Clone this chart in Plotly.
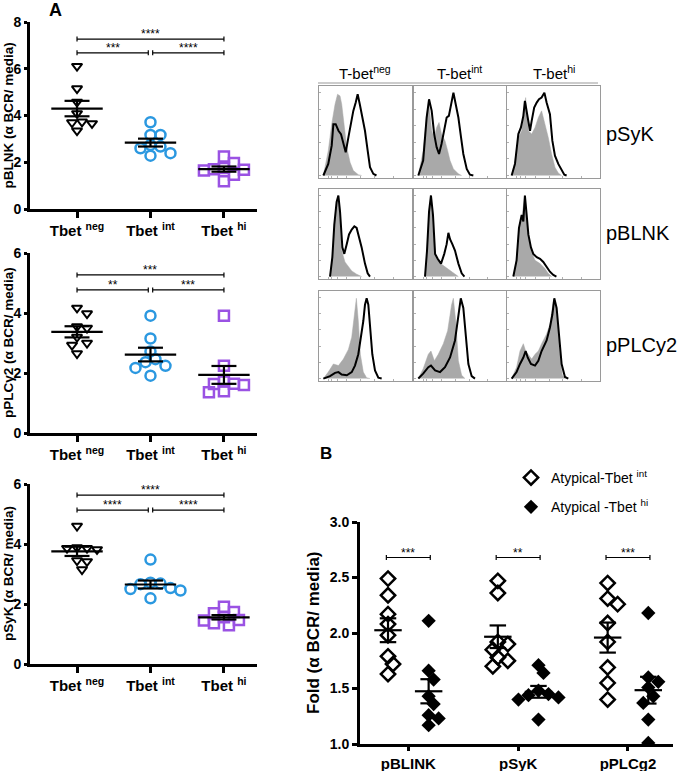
import numpy as np
import plotly.graph_objects as go

W, H = 686, 771
FONT = "Liberation Sans, Arial, sans-serif"

# ---------------- Panel A data (dot plots) ----------------
group_ticks = ["Tbet <sup>neg</sup>", "Tbet <sup>int</sup>", "Tbet <sup>hi</sup>"]

pblnk_neg = [6.11, 5.15, 4.58, 4.09, 3.73, 3.66, 3.70, 3.35]
pblnk_int = [3.71, 3.17, 3.17, 2.74, 2.60, 2.67, 2.28, 2.39]
pblnk_hi = [2.25, 1.97, 1.68, 1.75, 1.70, 1.47, 1.19, 1.65]

pplc_neg = [4.17, 3.98, 3.55, 3.50, 3.20, 3.00, 2.93, 2.65]
pplc_int = [3.91, 3.15, 2.72, 2.46, 2.36, 2.24, 2.17, 1.91]
pplc_hi = [3.91, 2.24, 1.72, 1.64, 1.63, 1.60, 1.39, 1.36]

psyk_neg = [4.60, 3.86, 3.86, 3.88, 3.82, 3.45, 3.42, 3.15]
psyk_int = [3.48, 2.71, 2.66, 2.50, 2.53, 2.45, 2.68, 2.19]
psyk_hi = [1.91, 1.73, 1.69, 1.56, 1.45, 1.36, 1.29, 1.47]

# ---------------- Panel B data ----------------
b_cats = ["pBLINK", "pSyK", "pPLCg2"]
blink_int = [2.49, 2.34, 2.17, 2.08, 1.98, 1.79, 1.72, 1.63]
blink_hi = [2.11, 1.66, 1.58, 1.43, 1.36, 1.26, 1.23, 1.17]
syk_int = [2.47, 2.36, 1.92, 1.90, 1.85, 1.78, 1.75, 1.70]
syk_hi = [1.71, 1.64, 1.48, 1.45, 1.44, 1.42, 1.40, 1.22]
plc_int = [2.45, 2.31, 2.26, 2.09, 1.92, 1.69, 1.55, 1.40]
plc_hi = [2.18, 1.60, 1.56, 1.51, 1.43, 1.37, 1.22, 1.01]

# ---------------- Histogram data (x: 0-100 channel, y: % of max) ----------------
hist_cols = ["T-bet<sup>neg</sup>", "T-bet<sup>int</sup>", "T-bet<sup>hi</sup>"]
hist_rows = ["pSyK", "pBLNK", "pPLCy2"]

psyk_neg_media = ([4.7, 10, 13.7, 17.3, 20, 22.7, 24.5, 27.3, 29.9, 33.5, 37, 42.4, 46],
                  [0, 30, 62, 86, 98, 96, 86, 58, 34, 16, 6, 1, 0])
psyk_neg_bcr = ([4.7, 10, 13.7, 15.5, 18, 21, 23.7, 26, 28.8, 31.7, 34.5, 37, 39.6, 41.7, 44, 46.8, 49.6, 52.5, 55, 58.6, 62],
                [0, 14, 36, 62, 62, 54, 50, 40, 28, 46, 62, 78, 88, 98, 86, 70, 54, 30, 10, 2, 0])
psyk_int_media = ([4.7, 10, 13.8, 16.4, 19.3, 22, 24.7, 27.3, 30, 33.8, 36.7, 39.3, 43, 48.4, 52],
                  [0, 30, 74, 86, 54, 46, 58, 64, 50, 42, 30, 18, 8, 2, 0])
psyk_int_bcr = ([4.7, 10, 13.8, 16.4, 19.3, 22, 24.7, 27.3, 30, 33, 35.6, 38, 40.4, 43, 45.5, 48.4, 51.3, 53.8, 57.5, 61, 64.7],
                [0, 18, 70, 92, 78, 50, 34, 26, 38, 54, 70, 72, 88, 100, 86, 70, 46, 26, 8, 1, 0])
psyk_hi_media = ([4.7, 8.3, 11.9, 15.5, 19.8, 22.7, 26.3, 29.9, 33.5, 37, 40.6, 44.2, 47.8, 51.4, 55, 58.6],
                 [0, 18, 46, 54, 94, 54, 50, 58, 70, 78, 62, 46, 26, 10, 3, 0])
psyk_hi_bcr = ([4.7, 8.3, 11.9, 14.7, 17.3, 19, 22, 24.5, 26.3, 29, 31.7, 34.2, 37, 40, 42.4, 46, 48.6, 51.4, 55, 58.6, 61.5, 64],
               [0, 14, 50, 58, 72, 90, 70, 54, 66, 82, 88, 92, 94, 100, 88, 74, 42, 24, 14, 6, 1, 0])

pblnk_neg_media = ([11.9, 14.4, 16.5, 19, 20.9, 22.7, 24.5, 28, 31.7, 35.3, 40.6, 46],
                   [0, 24, 64, 92, 100, 68, 32, 18, 12, 7, 3, 0])
pblnk_neg_bcr = ([11.9, 14.4, 16.5, 19, 20.9, 22.7, 25.2, 27.3, 29.9, 32.4, 35.3, 38.1, 40.6, 43.5, 46, 49.6, 52.5, 55],
                 [0, 24, 64, 92, 100, 80, 36, 28, 40, 52, 58, 62, 60, 48, 36, 16, 4, 0])
pblnk_int_media = ([12, 14.2, 16.4, 18.5, 20.7, 23.6, 29, 33.8, 39.3, 44.7, 48.4],
                   [0, 32, 80, 100, 56, 24, 16, 12, 7, 2, 0])
pblnk_int_bcr = ([12, 14.2, 16.4, 18.5, 20.7, 23, 25.8, 29.5, 33, 35.6, 37.5, 39.3, 41.8, 44.7, 48.4, 52, 55],
                 [0, 32, 80, 100, 76, 28, 22, 16, 28, 40, 54, 46, 40, 32, 16, 4, 0])
pblnk_hi_media = ([6.5, 10, 12.6, 15.5, 19, 21.9, 25.5, 29.9, 35.3, 40.6, 44, 48],
                  [0, 20, 60, 72, 100, 56, 32, 20, 16, 10, 4, 0])
pblnk_hi_bcr = ([6.5, 10, 12.6, 15.5, 17.3, 19, 20.9, 22.7, 25.5, 28, 31.7, 35.3, 38.8, 42.4, 46, 49.6, 53],
                [0, 20, 60, 76, 68, 100, 76, 52, 36, 28, 24, 22, 18, 12, 6, 2, 0])

pplc_neg_media = ([4.7, 10, 15.5, 21, 26.3, 31.7, 35.3, 38, 40.3, 42.4, 44.6, 47.8, 51.4, 55],
                  [0, 8, 18, 16, 24, 36, 51, 79, 99, 71, 30, 8, 1, 0])
pplc_neg_bcr = ([4.7, 11.9, 17.3, 21, 24.5, 30, 35.3, 38.8, 42.4, 45.3, 47.8, 49.6, 51.4, 53.2, 55, 57.5, 60.4, 64, 67.6],
                [0, 3, 7, 8, 5, 4, 8, 16, 30, 51, 71, 91, 99, 91, 63, 30, 10, 1, 0])
pplc_int_media = ([4.7, 10, 15.6, 18.5, 22.2, 26.5, 32, 36.7, 41, 42.9, 45.5, 48.4, 52, 55.6],
                  [0, 12, 30, 34, 22, 30, 43, 59, 91, 99, 71, 22, 4, 0])
pplc_int_bcr = ([4.7, 10, 15.6, 18.5, 23, 28.4, 33.8, 39.3, 44.7, 48.4, 51, 53.8, 56.4, 59.3, 62.9, 66.5],
                [0, 6, 14, 16, 10, 8, 14, 26, 47, 75, 99, 87, 51, 18, 3, 0])
pplc_hi_media = ([4.7, 10, 13.7, 17.3, 19.8, 22.7, 26.3, 29.9, 33.5, 37, 42.4, 46, 49.6, 51.4, 54.3, 56.8, 59.4, 62.2],
                 [0, 14, 34, 43, 34, 30, 24, 30, 34, 43, 55, 67, 95, 97, 71, 30, 4, 0])
pplc_hi_bcr = ([4.7, 10, 13.7, 17.3, 19.8, 22, 25.5, 29.9, 33.5, 37, 42.4, 46, 48.6, 50.7, 53.2, 55.8, 58.6, 62.2, 65.8],
               [0, 8, 18, 26, 34, 26, 18, 16, 22, 34, 47, 63, 79, 99, 87, 51, 18, 2, 0])

hist_panels = [
    [(psyk_neg_media, psyk_neg_bcr), (psyk_int_media, psyk_int_bcr), (psyk_hi_media, psyk_hi_bcr)],
    [(pblnk_neg_media, pblnk_neg_bcr), (pblnk_int_media, pblnk_int_bcr), (pblnk_hi_media, pblnk_hi_bcr)],
    [(pplc_neg_media, pplc_neg_bcr), (pplc_int_media, pplc_int_bcr), (pplc_hi_media, pplc_hi_bcr)],
]


def px2x(px):
    return px / W


def px2y(py):
    return 1 - py / H


def swarm(vals, center, ppx, ppy, d):
    vals = np.asarray(vals, float)
    order = np.argsort(-vals, kind="stable")
    placed = []
    xs = np.zeros(len(vals))
    cands = [0.0]
    for j in range(1, 30):
        cands += [j * d * 0.5, -j * d * 0.5]
    for i in order:
        ypx = vals[i] * ppy
        for off in cands:
            if all((off - a) ** 2 + (ypx - b) ** 2 >= d * d * 0.85 for a, b in placed):
                break
        placed.append((off, ypx))
        xs[i] = center + off / ppx
    return xs


def mean_sem_trace(vals, c, hw, cw, xa, ya):
    v = np.asarray(vals, float)
    m = v.mean()
    s = v.std(ddof=1) / np.sqrt(len(v))
    xs = [c - hw, c + hw, None, c, c, None, c - cw, c + cw, None, c - cw, c + cw]
    ys = [m, m, None, m - s, m + s, None, m + s, m + s, None, m - s, m - s]
    return go.Scatter(x=xs, y=ys, mode="lines", line=dict(color="black", width=2.2),
                      xaxis=xa, yaxis=ya, showlegend=False, hoverinfo="skip")


fig = go.Figure()
shapes = []
annotations = []

# ---------- Panel A ----------
a_panels = [
    ("x", "y", [pblnk_neg, pblnk_int, pblnk_hi], 8, "pBLNK (α BCR/ media)", (22, 209),
     [(0, 2, 7.27, "****"), (0, 0.97, 6.68, "***"), (1.03, 2, 6.68, "****")]),
    ("x2", "y2", [pplc_neg, pplc_int, pplc_hi], 6, "pPLCγ2 (α BCR/ media)", (253, 433),
     [(0, 2, 5.27, "***"), (0, 0.97, 4.77, "**"), (1.03, 2, 4.77, "***")]),
    ("x3", "y3", [psyk_neg, psyk_int, psyk_hi], 6, "pSyK (α BCR/ media)", (484, 664),
     [(0, 2, 5.63, "****"), (0, 0.97, 5.13, "****"), (1.03, 2, 5.13, "****")]),
]
a_styles = [
    dict(symbol="triangle-down-open", size=9, color="black", line=dict(width=2, color="black")),
    dict(symbol="circle-open", size=10, color="#2b98e0", line=dict(width=2.5, color="#2b98e0")),
    dict(symbol="square-open", size=10, color="#9a52e3", line=dict(width=2.5, color="#9a52e3")),
]
A_X0, A_X1 = 30, 257
A_RANGE = [-0.64, 2.45]
ppx_a = (A_X1 - A_X0) / (A_RANGE[1] - A_RANGE[0])

layout_axes = {}
for k, (xa, ya, data, ymax, ytitle, (ptop, pbot), brackets) in enumerate(a_panels):
    ppy = (pbot - ptop) / ymax
    for g, vals in enumerate(data):
        xs = swarm(vals, g, ppx_a, ppy, 10)
        fig.add_trace(go.Scatter(x=xs, y=vals, mode="markers", marker=a_styles[g],
                                 xaxis=xa, yaxis=ya, showlegend=False))
        fig.add_trace(mean_sem_trace(vals, g, 0.35, 0.17, xa, ya))
    xkey = "xaxis" if xa == "x" else "xaxis" + xa[1:]
    ykey = "yaxis" if ya == "y" else "yaxis" + ya[1:]
    layout_axes[xkey] = dict(domain=[px2x(A_X0), px2x(A_X1)], range=A_RANGE, anchor=ya,
                             automargin=False,
                             tickvals=[0, 1, 2], ticktext=group_ticks, showline=True,
                             linewidth=3, linecolor="black", ticks="outside", ticklen=6,
                             tickwidth=2.5, tickcolor="black", showgrid=False, zeroline=False,
                             tickfont=dict(family=FONT, size=15, color="black", weight="bold"))
    layout_axes[ykey] = dict(domain=[px2y(pbot), px2y(ptop)], range=[0, ymax], anchor=xa,
                             automargin=False,
                             tickvals=list(range(0, ymax + 1, 2)), showline=True, linewidth=3,
                             linecolor="black", ticks="outside", ticklen=3, tickwidth=2.5,
                             tickcolor="black", showgrid=False, zeroline=False,
                             tickfont=dict(family=FONT, size=14, color="black", weight="bold"))
    annotations.append(dict(xref="paper", yref="paper", x=px2x(8), y=px2y((ptop + pbot) / 2),
                            text=ytitle, textangle=-90, showarrow=False, xanchor="center",
                            yanchor="middle",
                            font=dict(family=FONT, size=13.5, color="black", weight="bold")))
    cap = 2.5 / ppy
    for x0, x1, yb, txt in brackets:
        shapes.append(dict(type="line", xref=xa, yref=ya, x0=x0, x1=x1, y0=yb, y1=yb,
                           line=dict(color="black", width=1.2)))
        for xx in (x0, x1):
            shapes.append(dict(type="line", xref=xa, yref=ya, x0=xx, x1=xx, y0=yb - cap, y1=yb + cap,
                               line=dict(color="black", width=1.2)))
        annotations.append(dict(xref=xa, yref=ya, x=(x0 + x1) / 2, y=yb, text=txt, showarrow=False,
                                yanchor="bottom", yshift=-4, font=dict(family=FONT, size=12, color="black")))

# ---------- Panel B ----------
B_X0, B_X1, B_TOP, B_BOT = 360, 673, 522, 744
B_RANGE = [-0.44, 2.41]
ppx_b = (B_X1 - B_X0) / (B_RANGE[1] - B_RANGE[0])
ppy_b = (B_BOT - B_TOP) / 2.0
b_int = [blink_int, syk_int, plc_int]
b_hi = [blink_hi, syk_hi, plc_hi]
OFF = 0.185
for c in range(3):
    xs = swarm(b_int[c], c - OFF, ppx_b, ppy_b, 10)
    fig.add_trace(go.Scatter(x=xs, y=b_int[c], mode="markers", xaxis="x4", yaxis="y4",
                             name="Atypical-Tbet <sup>int</sup>", legendgroup="int", showlegend=(c == 0),
                             marker=dict(symbol="diamond-open", size=11, color="black",
                                         line=dict(width=2.5, color="black"))))
    fig.add_trace(mean_sem_trace(b_int[c], c - OFF, 0.125, 0.075, "x4", "y4"))
    xs = swarm(b_hi[c], c + OFF, ppx_b, ppy_b, 10)
    fig.add_trace(go.Scatter(x=xs, y=b_hi[c], mode="markers", xaxis="x4", yaxis="y4",
                             name="Atypical -Tbet <sup>hi</sup>", legendgroup="hi", showlegend=(c == 0),
                             marker=dict(symbol="diamond", size=11, color="black",
                                         line=dict(width=0, color="black"))))
    fig.add_trace(mean_sem_trace(b_hi[c], c + OFF, 0.125, 0.075, "x4", "y4"))

b_brackets = [(0, "***"), (1, "**"), (2, "***")]
capb = 2.5 / ppy_b
for c, txt in b_brackets:
    x0, x1, yb = c - 0.2, c + 0.2, 2.68
    shapes.append(dict(type="line", xref="x4", yref="y4", x0=x0, x1=x1, y0=yb, y1=yb,
                       line=dict(color="black", width=1.2)))
    for xx in (x0, x1):
        shapes.append(dict(type="line", xref="x4", yref="y4", x0=xx, x1=xx, y0=yb - capb, y1=yb + capb,
                           line=dict(color="black", width=1.2)))
    annotations.append(dict(xref="x4", yref="y4", x=c, y=yb, text=txt, showarrow=False,
                            yanchor="bottom", yshift=-4, font=dict(family=FONT, size=12, color="black")))

layout_axes["xaxis4"] = dict(domain=[px2x(B_X0), px2x(B_X1)], range=B_RANGE, anchor="y4",
                             automargin=False,
                             tickvals=[0, 1, 2], ticktext=b_cats, showline=True, linewidth=3,
                             linecolor="black", ticks="outside", ticklen=4, tickwidth=2.5,
                             tickcolor="black", showgrid=False, zeroline=False,
                             tickfont=dict(family=FONT, size=15, color="black", weight="bold"))
layout_axes["yaxis4"] = dict(domain=[px2y(B_BOT), px2y(B_TOP)], range=[1.0, 3.0], anchor="x4",
                             automargin=False,
                             tickvals=[1.0, 1.5, 2.0, 2.5, 3.0], tickformat=".1f", showline=True,
                             linewidth=3, linecolor="black", ticks="outside", ticklen=5, tickwidth=2.5,
                             tickcolor="black", showgrid=False, zeroline=False,
                             tickfont=dict(family=FONT, size=14, color="black", weight="bold"))
annotations.append(dict(xref="paper", yref="paper", x=px2x(313), y=px2y((B_TOP + B_BOT) / 2),
                        text="Fold (α BCR/ media)", textangle=-90, showarrow=False,
                        xanchor="center", yanchor="middle",
                        font=dict(family=FONT, size=17, color="black", weight="bold")))

# ---------- Histograms ----------
col_px = [(319, 411.7), (414, 505.7), (507.3, 600)]
row_px = [(86, 178), (189, 279), (291, 381)]
ax_i = 5
for r in range(3):
    for c in range(3):
        media, bcr = hist_panels[r][c]
        xa, ya = "x%d" % ax_i, "y%d" % ax_i
        fig.add_trace(go.Scatter(x=media[0], y=media[1], mode="lines", fill="tozeroy",
                                 fillcolor="#a9a9a9", line=dict(color="#a9a9a9", width=0.5),
                                 xaxis=xa, yaxis=ya, showlegend=False, hoverinfo="skip"))
        fig.add_trace(go.Scatter(x=bcr[0], y=bcr[1], mode="lines",
                                 line=dict(color="black", width=2),
                                 xaxis=xa, yaxis=ya, showlegend=False, hoverinfo="skip"))
        layout_axes["xaxis%d" % ax_i] = dict(domain=[px2x(col_px[c][0]), px2x(col_px[c][1])],
                                             range=[0, 100], anchor=ya, showline=True, mirror=True,
                                             automargin=False,
                                             linecolor="#9a9a9a", linewidth=1.2, showgrid=False,
                                             zeroline=False, showticklabels=False, ticks="inside",
                                             ticklen=2, tickcolor="#b0b0b0",
                                             tickvals=[10, 14, 20, 30, 45, 60, 80])
        layout_axes["yaxis%d" % ax_i] = dict(domain=[px2y(row_px[r][1]), px2y(row_px[r][0])],
                                             range=[-3, 108], anchor=xa, showline=True, mirror=True,
                                             automargin=False,
                                             linecolor="#9a9a9a", linewidth=1.2, showgrid=False,
                                             zeroline=False, showticklabels=False, ticks="inside",
                                             ticklen=2, tickcolor="#b0b0b0",
                                             tickvals=[0, 20, 40, 60, 80, 100])
        ax_i += 1

# column headers and separator
for c in range(3):
    annotations.append(dict(xref="paper", yref="paper", x=px2x((col_px[c][0] + col_px[c][1]) / 2),
                            y=px2y(72), text=hist_cols[c], showarrow=False, xanchor="center",
                            yanchor="middle", font=dict(family=FONT, size=15, color="black")))
shapes.append(dict(type="line", xref="paper", yref="paper", x0=px2x(318), x1=px2x(598),
                   y0=px2y(83), y1=px2y(83), line=dict(color="#9a9a9a", width=1.2)))
for r, ypx in enumerate([134, 233, 345]):
    annotations.append(dict(xref="paper", yref="paper", x=px2x(604), y=px2y(ypx), text=hist_rows[r],
                            showarrow=False, xanchor="left", yanchor="middle",
                            font=dict(family=FONT, size=20, color="black")))

# panel letters
annotations.append(dict(xref="paper", yref="paper", x=px2x(55), y=px2y(10), text="<b>A</b>",
                        showarrow=False, xanchor="center", yanchor="middle",
                        font=dict(family=FONT, size=18, color="black")))
annotations.append(dict(xref="paper", yref="paper", x=px2x(326), y=px2y(453), text="<b>B</b>",
                        showarrow=False, xanchor="center", yanchor="middle",
                        font=dict(family=FONT, size=17, color="black")))

fig.update_layout(
    width=W, height=H, margin=dict(l=0, r=0, t=0, b=0, autoexpand=False),
    paper_bgcolor="white", plot_bgcolor="white",
    font=dict(family=FONT, color="black"),
    shapes=shapes, annotations=annotations,
    legend=dict(x=px2x(511), y=px2y(462), xanchor="left", yanchor="top",
                bgcolor="rgba(0,0,0,0)", traceorder="grouped", tracegroupgap=8,
                font=dict(family=FONT, size=14, color="black")),
    **layout_axes,
)

fig.write_html("out.html", config={"displayModeBar": False},
               post_script="document.body.style.margin='0';document.body.style.padding='0';")
